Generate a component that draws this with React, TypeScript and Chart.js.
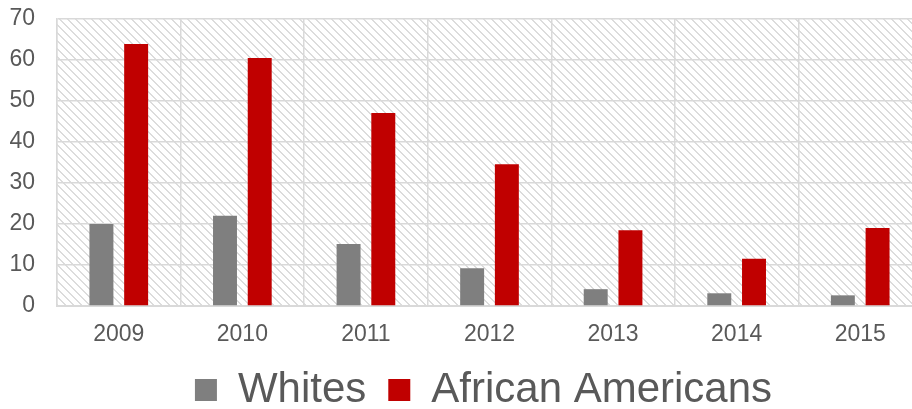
import React, { useEffect, useRef } from "react";
import { Chart, registerables } from "chart.js";

Chart.register(...registerables);

const years = ["2009", "2010", "2011", "2012", "2013", "2014", "2015"];
const whites = [20, 22, 15.1, 9.2, 4.1, 3.1, 2.6];
const africanAmericans = [63.9, 60.5, 47.1, 34.6, 18.5, 11.5, 19];
const seriesNames = ["Whites", "African Americans"];
const yTicks = { min: 0, max: 70, step: 10 };

function makePattern(): CanvasPattern | string {
  const c = document.createElement("canvas");
  c.width = 8;
  c.height = 8;
  const g = c.getContext("2d");
  if (!g) return "#ffffff";
  g.fillStyle = "#ffffff";
  g.fillRect(0, 0, 8, 8);
  g.fillStyle = "#dcdcdc";
  for (let i = 0; i < 8; i++) {
    g.fillRect(i, i, 1, 1);
    g.fillRect((i + 1) % 8, i, 1, 1);
  }
  const p = g.createPattern(c, "repeat");
  return p || "#ffffff";
}

export default function App() {
  const ref = useRef<HTMLCanvasElement | null>(null);
  useEffect(() => {
    if (!ref.current) return;
    const pattern = makePattern();
    const bgPlugin = {
      id: "hatchBg",
      beforeDraw(chart: any) {
        const { ctx, chartArea } = chart;
        ctx.save();
        ctx.fillStyle = "#ffffff";
        ctx.fillRect(0, 0, chart.width, chart.height);
        ctx.fillStyle = pattern;
        ctx.fillRect(
          chartArea.left,
          chartArea.top,
          chartArea.right - chartArea.left,
          chartArea.bottom - chartArea.top
        );
        ctx.restore();
      },
    };
    const chart = new Chart(ref.current, {
      type: "bar",
      data: {
        labels: years,
        datasets: [
          {
            label: seriesNames[0],
            data: whites,
            backgroundColor: "#7f7f7f",
            borderWidth: 0,
            categoryPercentage: 0.562,
            barPercentage: 0.69,
          },
          {
            label: seriesNames[1],
            data: africanAmericans,
            backgroundColor: "#c00000",
            borderWidth: 0,
            categoryPercentage: 0.562,
            barPercentage: 0.69,
          },
        ],
      },
      options: {
        animation: false,
        responsive: false,
        maintainAspectRatio: false,
        layout: { padding: { top: 19, left: 0, right: 0, bottom: 0 } },
        scales: {
          x: {
            grid: { color: "#d9d9d9", lineWidth: 1.5, drawTicks: false, offset: true },
            border: { color: "#d9d9d9", width: 2 },
            ticks: {
              color: "#595959",
              font: { family: "Liberation Sans, Arial, sans-serif", size: 23 },
              padding: 15,
            },
            afterFit: (s: any) => {
              s.height = 41;
            },
          },
          y: {
            min: yTicks.min,
            max: yTicks.max,
            grid: {
              color: "#d9d9d9",
              lineWidth: 1.5,
              drawTicks: true,
              tickLength: 20,
              tickColor: "rgba(0,0,0,0)",
            },
            border: { color: "#d9d9d9", width: 1.5 },
            ticks: {
              stepSize: yTicks.step,
              color: "#595959",
              font: { family: "Liberation Sans, Arial, sans-serif", size: 23 },
              padding: 2,
            },
            afterFit: (s: any) => {
              s.width = 57;
            },
          },
          y2: {
            position: "right",
            display: true,
            grid: { display: false, drawOnChartArea: false },
            border: { display: false },
            ticks: { display: false },
            afterFit: (s: any) => {
              s.width = 45;
            },
          },
        },
        plugins: {
          legend: {
            position: "bottom",
            labels: {
              boxWidth: 22,
              boxHeight: 22,
              padding: 22,
              color: "#595959",
              font: { family: "Liberation Sans, Arial, sans-serif", size: 42 },
            },
          },
          tooltip: { enabled: false },
        },
      },
      plugins: [bgPlugin],
    } as any);
    return () => chart.destroy();
  }, []);
  return (
    <div style={{ position: "fixed", left: 0, top: 0, width: 967, height: 421 }}>
      <canvas ref={ref} width={967} height={421} style={{ display: "block" }} />
    </div>
  );
}
